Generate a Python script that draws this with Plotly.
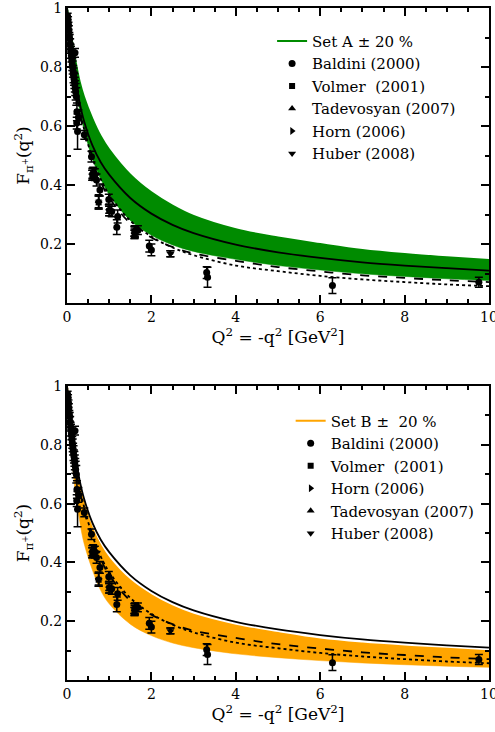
import plotly.graph_objects as go

# ---- model curves: F_pi(Q^2) tabulated on a common Q^2 grid ----
q2_grid = [0, 0.05, 0.1, 0.2, 0.3, 0.4, 0.6, 0.8, 1.0, 1.5, 2.0, 2.5, 3.0, 4.0, 5.0, 6.0, 7.0, 8.0, 9.0, 10.0]
set_a = [1.0, 0.924, 0.859, 0.756, 0.679, 0.619, 0.535, 0.477, 0.435, 0.356, 0.303, 0.265, 0.237, 0.198, 0.172, 0.153, 0.138, 0.127, 0.118, 0.110]
set_a_hi = [1.0, 0.95, 0.905, 0.82, 0.75, 0.70, 0.625, 0.565, 0.52, 0.435, 0.375, 0.33, 0.295, 0.25, 0.222, 0.20, 0.18, 0.166, 0.155, 0.146]
set_a_lo = [1.0, 0.92, 0.85, 0.74, 0.655, 0.59, 0.49, 0.42, 0.367, 0.28, 0.23, 0.197, 0.175, 0.148, 0.127, 0.112, 0.099, 0.09, 0.082, 0.076]
set_b = [1.0, 0.917, 0.846, 0.733, 0.647, 0.58, 0.48, 0.41, 0.357, 0.27, 0.222, 0.19, 0.168, 0.143, 0.122, 0.107, 0.094, 0.085, 0.077, 0.071]
set_b_hi = [1.0, 0.91, 0.84, 0.735, 0.66, 0.60, 0.515, 0.456, 0.413, 0.338, 0.288, 0.25, 0.222, 0.185, 0.16, 0.138, 0.124, 0.114, 0.106, 0.098]
set_b_lo = [1.0, 0.875, 0.778, 0.636, 0.54, 0.467, 0.375, 0.304, 0.259, 0.19, 0.151, 0.126, 0.11, 0.089, 0.076, 0.066, 0.058, 0.052, 0.047, 0.043]
monopole = [1.0, 0.921, 0.853, 0.744, 0.659, 0.592, 0.492, 0.42, 0.367, 0.279, 0.225, 0.188, 0.162, 0.127, 0.108, 0.092, 0.08, 0.071, 0.063, 0.057]

# ---- experimental data: Q^2, F_pi, error ----
baldini_q2 = [0.015, 0.025, 0.035, 0.045, 0.055, 0.065, 0.075, 0.085, 0.095, 0.105, 0.115, 0.125,
              0.135, 0.145, 0.155, 0.165, 0.175, 0.19, 0.185, 0.195, 0.205, 0.22, 0.235, 0.25,
              0.27, 0.23, 0.41, 0.58, 0.62, 0.66, 0.70, 0.78, 0.99, 1.06, 1.20, 1.18, 1.61,
              1.68, 1.95, 2.00, 3.31, 3.33, 6.29, 9.76]
baldini_f = [0.972, 0.958, 0.940, 0.925, 0.905, 0.895, 0.878, 0.862, 0.850, 0.835, 0.820, 0.808,
             0.798, 0.785, 0.772, 0.760, 0.752, 0.848, 0.740, 0.728, 0.716, 0.700, 0.648, 0.581,
             0.630, 0.610, 0.570, 0.496, 0.440, 0.435, 0.417, 0.383, 0.351, 0.310, 0.293, 0.257, 0.242,
             0.247, 0.193, 0.180, 0.103, 0.087, 0.059, 0.070]
baldini_err = [0.010, 0.012, 0.012, 0.015, 0.012, 0.015, 0.018, 0.015, 0.020, 0.018, 0.020, 0.020,
               0.022, 0.020, 0.025, 0.022, 0.025, 0.015, 0.025, 0.025, 0.028, 0.030, 0.030, 0.060,
               0.025, 0.020, 0.015, 0.018, 0.020, 0.020, 0.020, 0.020, 0.018, 0.018, 0.022, 0.025, 0.020,
               0.015, 0.020, 0.020, 0.020, 0.034, 0.027, 0.017]

volmer_q2 = [0.60, 0.75, 1.00, 1.60]
volmer_f = [0.433, 0.341, 0.312, 0.233]
volmer_err = [0.017, 0.022, 0.016, 0.014]

tadevosyan_q2 = [0.60, 0.75, 1.00, 1.60]
tadevosyan_f = [0.440, 0.345, 0.320, 0.240]
tadevosyan_err = [0.017, 0.022, 0.016, 0.014]

horn_q2 = [1.60, 2.45]
horn_f = [0.243, 0.167]
horn_err = [0.017, 0.010]

huber_q2 = [0.60, 0.75, 1.00, 1.60, 1.60, 2.45]
huber_f = [0.433, 0.341, 0.312, 0.233, 0.243, 0.167]
huber_err = [0.017, 0.022, 0.016, 0.014, 0.017, 0.010]

GREEN = "rgb(0,139,0)"
ORANGE = "rgb(255,165,0)"
SERIF = "DejaVu Serif"
NB = "\u00a0"

fig = go.Figure()


def add_panel(xa, ya, legend, band_hi, band_lo, band_color, band_name, ranks):
    # uncertainty band: upper edge carries the legend entry, lower edge fills to it
    fig.add_trace(go.Scatter(x=q2_grid, y=band_hi, mode="lines", line=dict(color=band_color, width=2, shape="spline"),
                             name=band_name, legend=legend, legendrank=1, xaxis=xa, yaxis=ya, hoverinfo="skip"))
    fig.add_trace(go.Scatter(x=q2_grid, y=band_lo, mode="lines", line=dict(color=band_color, width=0.5, shape="spline"),
                             fill="tonexty", fillcolor=band_color, showlegend=False, xaxis=xa, yaxis=ya, hoverinfo="skip"))
    # central curves
    for ys, dash in ((set_a, "solid"), (set_b, "dash"), (monopole, "dot")):
        fig.add_trace(go.Scatter(x=q2_grid, y=ys, mode="lines", line=dict(color="black", width=1.8, dash=dash, shape="spline"),
                                 showlegend=False, xaxis=xa, yaxis=ya, hoverinfo="skip"))
    # data sets
    sets = [
        ("Baldini (2000)", baldini_q2, baldini_f, baldini_err, "circle", 7),
        ("Volmer" + NB + NB + "(2001)", volmer_q2, volmer_f, volmer_err, "square", 6),
        ("Tadevosyan (2007)", tadevosyan_q2, tadevosyan_f, tadevosyan_err, "triangle-up", 7),
        ("Horn (2006)", horn_q2, horn_f, horn_err, "triangle-right", 7),
        ("Huber (2008)", huber_q2, huber_f, huber_err, "triangle-down", 7),
    ]
    for (name, xs, ys, es, sym, sz), rank in zip(sets, ranks):
        fig.add_trace(go.Scatter(
            x=xs, y=ys, mode="markers", name=name, legend=legend, legendrank=rank,
            marker=dict(symbol=sym, size=sz, color="black"),
            error_y=dict(type="data", array=es, color="black", thickness=1.5, width=4),
            xaxis=xa, yaxis=ya))


add_panel("x", "y", "legend", set_a_hi, set_a_lo, GREEN, "Set A ± 20 %", [2, 3, 4, 5, 6])
add_panel("x2", "y2", "legend2", set_b_hi, set_b_lo, ORANGE, "Set B ±" + NB + NB + "20 %", [2, 3, 5, 4, 6])

tickfont = dict(family=SERIF, size=14, color="black")
titlefont = dict(family=SERIF, size=17, color="black")


def xaxis_cfg(anchor):
    return dict(anchor=anchor, domain=[0, 1], range=[0, 10], tick0=0, dtick=2,
                automargin=False, ticklabeloverflow="allow",
                showline=True, linewidth=2, linecolor="black", mirror="allticks",
                ticks="inside", ticklen=8, tickwidth=1.5, tickcolor="black",
                minor=dict(ticks="inside", dtick=0.5, ticklen=4, tickwidth=1.5, tickcolor="black"),
                showgrid=False, zeroline=False, tickfont=tickfont,
                title=dict(text="Q<sup>2</sup> = -q<sup>2</sup> [GeV<sup>2</sup>]", font=titlefont, standoff=6))


def yaxis_cfg(anchor, domain):
    return dict(anchor=anchor, domain=domain, range=[0, 1],
                automargin=False, ticklabeloverflow="allow",
                tickvals=[0.2, 0.4, 0.6, 0.8, 1.0], ticktext=["0.2", "0.4", "0.6", "0.8", "1"],
                showline=True, linewidth=2, linecolor="black", mirror="allticks",
                ticks="inside", ticklen=8, tickwidth=1.5, tickcolor="black",
                minor=dict(ticks="inside", tickvals=[0.1, 0.3, 0.5, 0.7, 0.9], ticklen=4, tickwidth=1.5, tickcolor="black"),
                showgrid=False, zeroline=False, tickfont=tickfont,
                title=dict(text="F<sub>π<sup>+</sup></sub>(q<sup>2</sup>)", font=titlefont, standoff=6))


legend_common = dict(bgcolor="rgba(0,0,0,0)", borderwidth=0, font=dict(family=SERIF, size=15, color="black"),
                     xanchor="left", yanchor="top", tracegroupgap=0, itemwidth=30, traceorder="normal")

fig.update_layout(
    width=495, height=732,
    font=dict(family=SERIF),
    margin=dict(l=67, r=6, t=8, b=52),
    paper_bgcolor="white", plot_bgcolor="white",
    xaxis=xaxis_cfg("y"), yaxis=yaxis_cfg("x", [0.561, 1.0]),
    xaxis2=xaxis_cfg("y2"), yaxis2=yaxis_cfg("x2", [0.0, 0.4375]),
    legend=dict(x=0.486, y=0.975, **legend_common),
    legend2=dict(x=0.53, y=0.41, **legend_common),
)

fig.write_html("out.html")
